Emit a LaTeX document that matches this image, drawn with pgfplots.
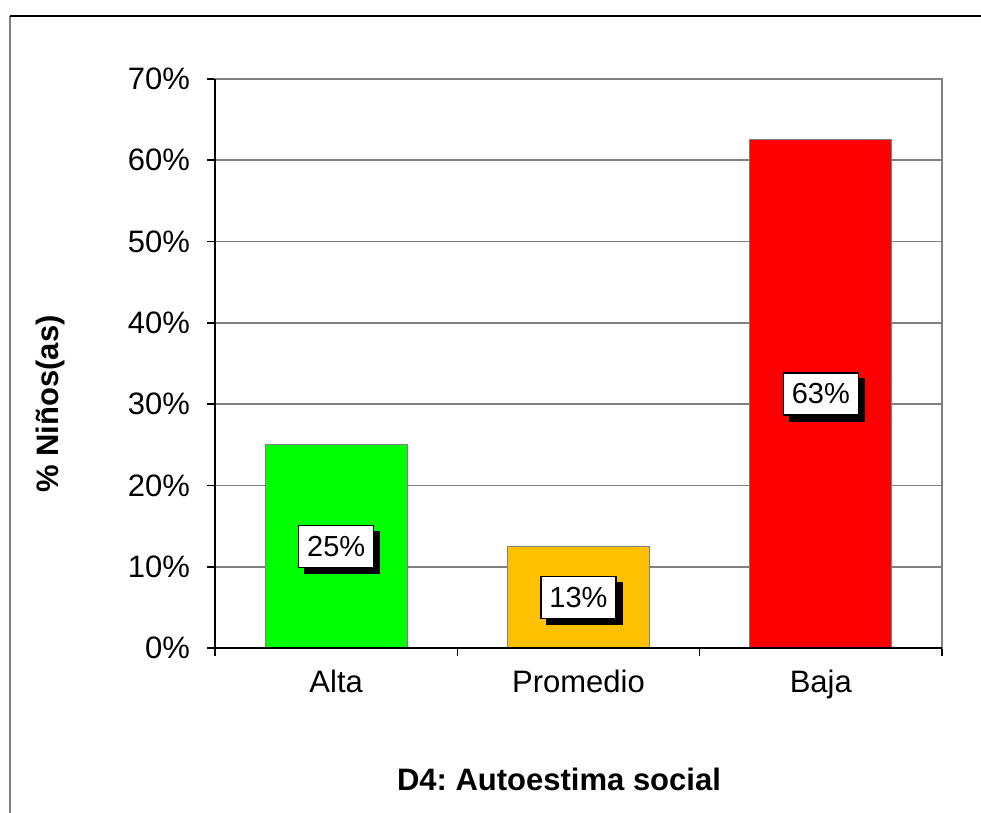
\documentclass[border=0pt]{standalone}
\usepackage{pgfplots}
\pgfplotsset{compat=1.18}
\usepackage{fontspec}
\setmainfont{Liberation Sans}
\usetikzlibrary{shadows}
\definecolor{barG}{RGB}{0,255,0}
\definecolor{barO}{RGB}{255,192,0}
\definecolor{barR}{RGB}{255,0,0}
\definecolor{gridG}{RGB}{128,128,128}
\frenchspacing
\begin{document}
\begin{tikzpicture}
\useasboundingbox (0,0) rectangle (490.5bp,406.5bp);
\clip (0,0) rectangle (490.5bp,406.5bp);
\draw[gridG, line width=1bp] (5bp,-5bp) -- (5bp,398.5bp);
\draw[black, line width=1bp] (5bp,398.5bp) -- (500bp,398.5bp);
\begin{axis}[
  at={(107.5bp,82.5bp)}, anchor=south west,
  scale only axis, width=363.5bp, height=284.5bp,
  xmin=-0.5, xmax=2.5, ymin=0, ymax=70,
  xtick={0,1,2}, xticklabels={Alta,Promedio,Baja},
  major x tick style={draw=none},
  minor xtick={-0.5,0.5,1.5,2.5},
  xtick pos=bottom, ytick pos=left,
  ytick={0,10,...,70},
  yticklabel={\pgfmathprintnumber{\tick}\%},
  /pgf/number format/assume math mode=true,
  tick align=outside,
  major tick length=4bp, minor tick length=4bp,
  tick style={black, line width=0.8bp},
  ymajorgrids, grid style={gridG, line width=0.9bp},
  axis line style={gridG, line width=0.9bp},
  ticklabel style={font=\fontsize{15.5bp}{18bp}\selectfont, text=black},
  xticklabel style={yshift=-3.5bp},
  yticklabel style={xshift=-5bp},
  clip=false,
]
\addplot[ybar, bar width=71bp, bar shift=0pt, fill=barG, draw=gridG, line width=0.5bp] coordinates {(0,25)};
\addplot[ybar, bar width=71bp, bar shift=0pt, fill=barO, draw=gridG, line width=0.5bp] coordinates {(1,12.5)};
\addplot[ybar, bar width=71bp, bar shift=0pt, fill=barR, draw=gridG, line width=0.5bp] coordinates {(2,62.5)};
\draw[black, line width=0.8bp] (rel axis cs:0,1) -- (rel axis cs:0,0) -- (rel axis cs:1,0);
\addplot[only marks, mark=*, mark size=0pt, mark options={draw=none, fill=none},
  point meta=explicit symbolic,
  nodes near coords={\pgfplotspointmeta},
  nodes near coords style={anchor=center, fill=white, draw=black, line width=0.6bp,
    minimum width=37.5bp, minimum height=21bp, inner sep=0pt,
    font=\fontsize{14.5bp}{17bp}\selectfont,
    drop shadow={shadow xshift=3bp, shadow yshift=-3bp, fill=black, opacity=1}}]
  coordinates {(0,12.5) [25\%] (1,6.25) [13\%] (2,31.25) [63\%]};
\end{axis}
\node[anchor=base, font=\fontsize{15.5bp}{18bp}\selectfont\bfseries] at (279.5bp,11.5bp) {D4: Autoestima social};
\node[rotate=90, anchor=center, font=\fontsize{15.5bp}{18bp}\selectfont\bfseries] at (25bp,204.5bp) {\% Niños(as)};
\end{tikzpicture}
\end{document}
